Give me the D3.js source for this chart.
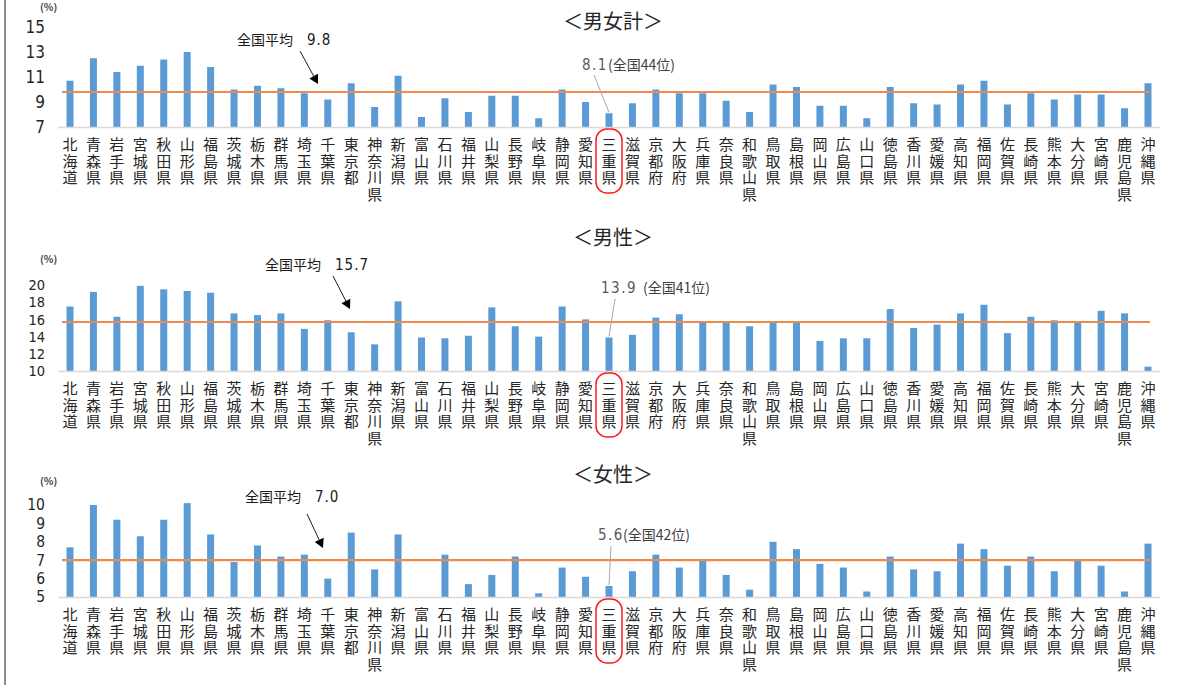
<!DOCTYPE html>
<html>
<head>
<meta charset="utf-8">
<script src="https://cdn.jsdelivr.net/npm/d3@7"></script>
<style>
  body { margin: 0; background: #fff; }
  svg { display: block; }
  .jp { font-family: "Noto Sans CJK JP", sans-serif; }
  .num { font-family: "Liberation Sans Narrow", "DejaVu Sans Condensed", sans-serif; }
  .vert { writing-mode: vertical-rl; text-orientation: upright; }
</style>
</head>
<body>
<svg id="chart" width="1200" height="685"></svg>
<script>
// prefectures, left to right
var prefs = ["北海道","青森県","岩手県","宮城県","秋田県","山形県","福島県","茨城県","栃木県","群馬県",
  "埼玉県","千葉県","東京都","神奈川県","新潟県","富山県","石川県","福井県","山梨県","長野県",
  "岐阜県","静岡県","愛知県","三重県","滋賀県","京都府","大阪府","兵庫県","奈良県","和歌山県",
  "鳥取県","島根県","岡山県","広島県","山口県","徳島県","香川県","愛媛県","高知県","福岡県",
  "佐賀県","長崎県","熊本県","大分県","宮崎県","鹿児島県","沖縄県"];

// rates (%)
var totalRate = [10.7,12.5,11.4,11.9,12.4,13.0,11.8,10.0,10.3,10.1,
  9.7,9.2,10.5,8.6,11.1,7.8,9.3,8.2,9.5,9.5,
  7.7,10.0,9.0,8.1,8.9,10.0,9.7,9.7,9.1,8.2,
  10.4,10.2,8.7,8.7,7.7,10.2,8.9,8.8,10.4,10.7,
  8.8,9.7,9.2,9.6,9.6,8.5,10.5];
var maleRate = [17.5,19.2,16.3,19.9,19.5,19.3,19.1,16.7,16.5,16.7,
  14.9,15.9,14.5,13.1,18.1,13.9,13.8,14.1,17.4,15.2,
  14.0,17.5,16.0,13.9,14.2,16.2,16.6,15.8,15.8,15.2,
  15.8,15.8,13.5,13.8,13.8,17.2,15.0,15.4,16.7,17.7,
  14.4,16.3,15.9,15.7,17.0,16.7,10.5];
var femaleRate = [7.7,10.0,9.2,8.3,9.2,10.1,8.4,6.9,7.8,7.2,
  7.3,6.0,8.5,6.5,8.4,4.9,7.3,5.7,6.2,7.2,
  5.2,6.6,6.1,5.6,6.4,7.3,6.6,7.0,6.2,5.4,
  8.0,7.6,6.8,6.6,5.3,7.2,6.5,6.4,7.9,7.6,
  6.7,7.2,6.4,7.0,6.7,5.3,7.9];

var titles = ["＜男女計＞", "＜男性＞", "＜女性＞"];
var averages = [9.8, 15.7, 7.0];
var mieRank = [44, 41, 42];
var yTicks = [[7, 9, 11, 13, 15], [10, 12, 14, 16, 18, 20], [5, 6, 7, 8, 9, 10]];
var mie = "三重県";

var svg = d3.select("#chart");

// frame line on the left
svg.append("line")
  .attr("x1", 5).attr("x2", 5).attr("y1", 0).attr("y2", 685)
  .attr("stroke", "#8c8c8c").attr("stroke-width", 2);

var x = d3.scalePoint().domain(prefs).range([70, 1148]);

// one panel per series
function drawPanel(values, idx, lay) {
  var ticks = yTicks[idx];
  var y = d3.scaleLinear()
    .domain([ticks[0], ticks[ticks.length - 1]])
    .range([lay.base, lay.top]);
  var g = svg.append("g");

  g.append("text").attr("class", "jp")
    .attr("x", 613).attr("y", lay.titleY)
    .attr("text-anchor", "middle")
    .attr("font-size", 20).attr("fill", "#262626")
    .text(titles[idx]);

  g.append("text").attr("class", "jp")
    .attr("x", 40).attr("y", lay.pctY)
    .attr("font-size", 10).attr("font-weight", "bold").attr("fill", "#404040")
    .text("(%)");

  var axis = d3.axisLeft(y).tickValues(ticks).tickSize(0).tickPadding(0).tickFormat(d3.format("d"));
  var ag = g.append("g").attr("transform", "translate(45,0)").call(axis);
  ag.select(".domain").remove();
  ag.selectAll("text")
    .attr("class", "num")
    .attr("font-size", lay.tickFont).attr("fill", "#262626");

  // bars
  g.selectAll("rect.bar")
    .data(values)
    .enter()
    .append("rect")
    .attr("class", "bar")
    .attr("x", function(d, i) { return x(prefs[i]) - 3.5; })
    .attr("width", 7)
    .attr("y", function(d) { return Math.min(y(d), lay.base); })
    .attr("height", function(d) { return Math.max(0, lay.base - y(d)); })
    .attr("fill", "#5b9bd5");

  // baseline
  g.append("line")
    .attr("x1", 58).attr("x2", 1160)
    .attr("y1", lay.base + 0.5).attr("y2", lay.base + 0.5)
    .attr("stroke", "#d9d9d9").attr("stroke-width", 1.5);

  // national average
  g.append("line")
    .attr("x1", 62).attr("x2", 1150)
    .attr("y1", y(averages[idx])).attr("y2", y(averages[idx]))
    .attr("stroke", "#ee8a4c").attr("stroke-width", 2.2);

  // prefecture names, written top to bottom
  g.selectAll("text.pref")
    .data(prefs)
    .enter()
    .append("text")
    .attr("class", "jp vert pref")
    .attr("x", function(d) { return x(d); })
    .attr("y", lay.base + 10)
    .attr("font-size", 15)
    .attr("letter-spacing", 1.5)
    .attr("fill", "#262626")
    .text(function(d) { return d; });

  // red mark around mie
  g.append("rect")
    .attr("x", x(mie) - 13).attr("y", lay.base + 2)
    .attr("width", 26).attr("height", 64)
    .attr("rx", 11).attr("ry", 11)
    .attr("fill", "none").attr("stroke", "#ff1a1a").attr("stroke-width", 1.5);

  // average label and arrow
  var a = lay.avg;
  g.append("text").attr("class", "jp")
    .attr("x", a.x).attr("y", a.y)
    .attr("font-size", 14).attr("fill", "#1a1a1a")
    .text("全国平均");
  g.append("text").attr("class", "num")
    .attr("x", a.x + 70).attr("y", a.y)
    .attr("font-size", 15).attr("letter-spacing", 1).attr("fill", "#1a1a1a")
    .text(d3.format(".1f")(averages[idx]));
  var ang = Math.atan2(a.y2 - a.y1, a.x2 - a.x1);
  var hx = a.x2 - 9 * Math.cos(ang), hy = a.y2 - 9 * Math.sin(ang);
  g.append("line")
    .attr("x1", a.x1).attr("y1", a.y1).attr("x2", hx).attr("y2", hy)
    .attr("stroke", "#1a1a1a").attr("stroke-width", 1);
  var px = -Math.sin(ang) * 5, py = Math.cos(ang) * 5;
  g.append("path")
    .attr("d", "M" + a.x2 + "," + a.y2 + "L" + (hx + px) + "," + (hy + py) + "L" + (hx - px) + "," + (hy - py) + "Z")
    .attr("fill", "#000");

  // mie value label
  var mv = values[prefs.indexOf(mie)];
  var m = lay.mie;
  g.append("line")
    .attr("x1", m.lx).attr("y1", m.ly)
    .attr("x2", x(mie) + m.dx).attr("y2", y(mv) - 1)
    .attr("stroke", "#a6a6a6").attr("stroke-width", 1);
  g.append("text").attr("class", "num")
    .attr("x", m.x).attr("y", m.y)
    .attr("font-size", 15).attr("letter-spacing", 1.5).attr("fill", "#595959")
    .text(d3.format(".1f")(mv));
  g.append("text").attr("class", "jp")
    .attr("x", m.x2).attr("y", m.y)
    .attr("font-size", 14).attr("fill", "#404040")
    .text("(全国" + mieRank[idx] + "位)");
}

drawPanel(totalRate, 0, {
  top: 27, base: 127, titleY: 29, pctY: 11, tickFont: 17,
  avg: { x: 237, y: 45, x1: 300, y1: 51, x2: 318, y2: 84 },
  mie: { x: 582, x2: 608, y: 70, lx: 594, ly: 75, dx: 0 }
});
drawPanel(maleRate, 1, {
  top: 285, base: 371, titleY: 245, pctY: 263, tickFont: 14.5,
  avg: { x: 265, y: 270, x1: 333, y1: 276, x2: 350, y2: 309 },
  mie: { x: 601, x2: 643, y: 293, lx: 615, ly: 299, dx: 0 }
});
drawPanel(femaleRate, 2, {
  top: 505, base: 597, titleY: 482, pctY: 485, tickFont: 15.5,
  avg: { x: 245, y: 502, x1: 307, y1: 514, x2: 323, y2: 548 },
  mie: { x: 598, x2: 623, y: 540, lx: 611, ly: 546, dx: 0 }
});
</script>
</body>
</html>
